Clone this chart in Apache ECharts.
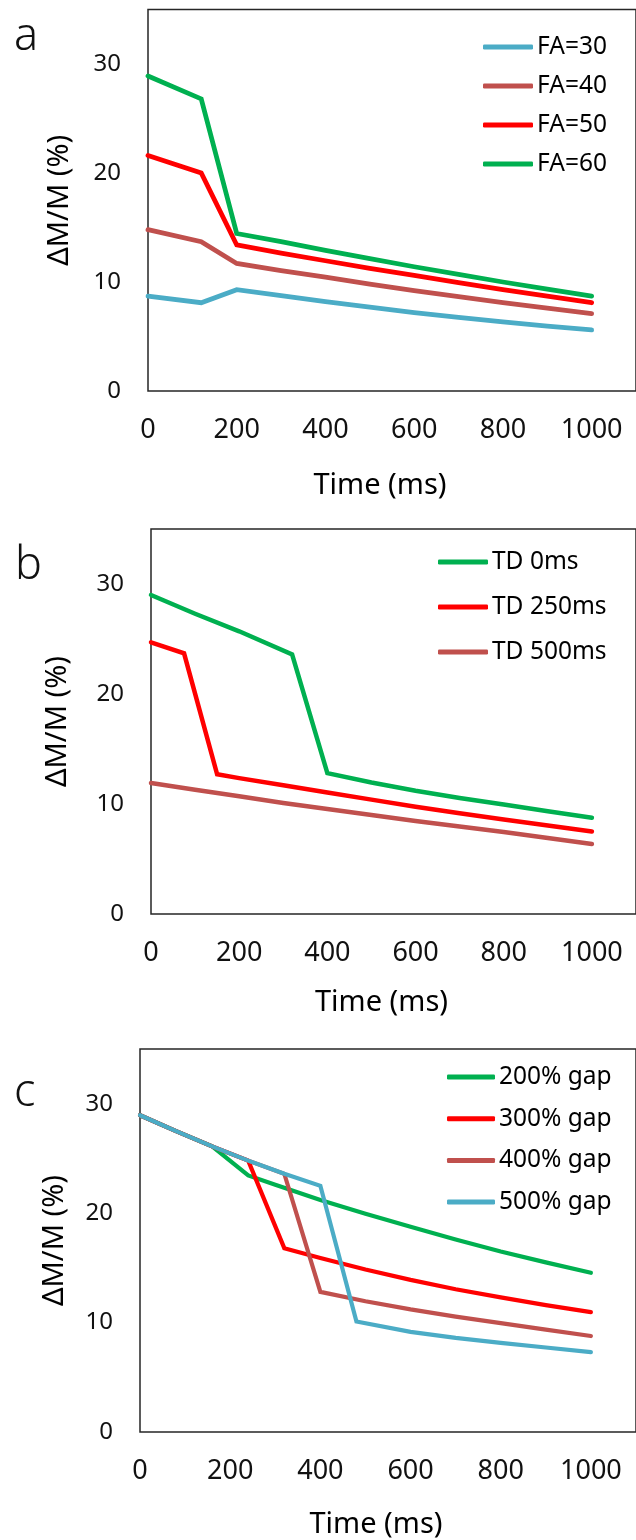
<!DOCTYPE html>
<html>
<head>
<meta charset="utf-8">
<script src="https://cdn.jsdelivr.net/npm/echarts@6/dist/echarts.min.js"></script>
<style>
  html, body { margin: 0; padding: 0; background: #fff; }
  #chart { width: 636px; height: 1540px; }
</style>
</head>
<body>
<div id="chart"></div>
<script>
// ---- Panel a: signal change for several flip angles ----
const timeA = [0, 120, 200, 300, 400, 500, 600, 700, 800, 900, 1000];
const fa30 = [8.7, 8.1, 9.3, 8.75, 8.2, 7.7, 7.2, 6.75, 6.35, 5.95, 5.6];
const fa40 = [14.8, 13.7, 11.7, 11.05, 10.45, 9.8, 9.2, 8.65, 8.1, 7.6, 7.1];
const fa50 = [21.6, 20.0, 13.4, 12.65, 11.95, 11.25, 10.6, 9.95, 9.3, 8.7, 8.1];
const fa60 = [28.9, 26.8, 14.45, 13.7, 12.9, 12.15, 11.4, 10.7, 10.0, 9.35, 8.7];

// ---- Panel b: different time delays ----
const td0Time = [0, 100, 200, 320, 400, 500, 600, 700, 800, 900, 1000];
const td0 = [29.0, 27.3, 25.7, 23.6, 12.8, 11.95, 11.2, 10.55, 9.95, 9.35, 8.75];
const td250Time = [0, 75, 150, 200, 300, 400, 500, 600, 700, 800, 900, 1000];
const td250 = [24.7, 23.7, 12.7, 12.35, 11.7, 11.05, 10.4, 9.75, 9.15, 8.6, 8.05, 7.5];
const td500Time = [0, 100, 200, 300, 400, 500, 600, 700, 800, 900, 1000];
const td500 = [11.9, 11.3, 10.7, 10.1, 9.55, 9.0, 8.45, 7.95, 7.45, 6.9, 6.36];

// ---- Panel c: different gap lengths ----
const gap200Time = [0, 80, 160, 240, 300, 400, 500, 600, 700, 800, 900, 1000];
const gap200 = [28.95, 27.5, 26.1, 23.45, 22.6, 21.2, 19.95, 18.75, 17.6, 16.5, 15.5, 14.55];
const gap300Time = [0, 80, 160, 240, 320, 400, 500, 600, 700, 800, 900, 1000];
const gap300 = [28.95, 27.5, 26.1, 24.8, 16.8, 15.9, 14.85, 13.9, 13.05, 12.3, 11.6, 10.95];
const gap400Time = [0, 80, 160, 240, 320, 400, 500, 600, 700, 800, 900, 1000];
const gap400 = [28.95, 27.5, 26.1, 24.8, 23.6, 12.8, 11.95, 11.2, 10.55, 9.95, 9.35, 8.77];
const gap500Time = [0, 80, 160, 240, 320, 400, 480, 600, 700, 800, 900, 1000];
const gap500 = [28.95, 27.5, 26.1, 24.8, 23.6, 22.5, 10.1, 9.15, 8.6, 8.15, 7.72, 7.3];

const panelLetters = ['a', 'b', 'c'];
const xTitle = 'Time (ms)';
const yTitle = 'ΔM/M (%)';

const BLUE = '#4BACC6', BROWN = '#C0504D', RED = '#FF0000', GREEN = '#00B050';
const FONT = '"Noto Sans", "Open Sans", sans-serif';

function pairs(xs, ys) { return xs.map((x, i) => [x, ys[i]]); }

// one entry per panel: grid box, series and legend placement
const panels = [
  {
    grid: { left: 148, top: 9.5, width: 495.5, height: 381.5 },
    xNameGap: 80, yNameGap: 74, lineWidth: 4.8,
    legend: { left: 483, top: 33, itemGap: 11, itemWidth: 50 },
    series: [
      { name: 'FA=30', color: BLUE, data: pairs(timeA, fa30) },
      { name: 'FA=40', color: BROWN, data: pairs(timeA, fa40) },
      { name: 'FA=50', color: RED, data: pairs(timeA, fa50) },
      { name: 'FA=60', color: GREEN, data: pairs(timeA, fa60) }
    ]
  },
  {
    grid: { left: 151, top: 529, width: 490.6, height: 385 },
    xNameGap: 74, yNameGap: 79, lineWidth: 4.5,
    legend: { left: 438, top: 548, itemGap: 17, itemWidth: 50 },
    series: [
      { name: 'TD 0ms', color: GREEN, data: pairs(td0Time, td0) },
      { name: 'TD 250ms', color: RED, data: pairs(td250Time, td250) },
      { name: 'TD 500ms', color: BROWN, data: pairs(td500Time, td500) }
    ]
  },
  {
    grid: { left: 140, top: 1049, width: 498.3, height: 383 },
    xNameGap: 78, yNameGap: 71, lineWidth: 4.2,
    legend: { left: 447, top: 1063, itemGap: 13.7, itemWidth: 48 },
    series: [
      { name: '200% gap', color: GREEN, data: pairs(gap200Time, gap200) },
      { name: '300% gap', color: RED, data: pairs(gap300Time, gap300) },
      { name: '400% gap', color: BROWN, data: pairs(gap400Time, gap400) },
      { name: '500% gap', color: BLUE, data: pairs(gap500Time, gap500) }
    ]
  }
];

const letterPos = [
  { x: 14, y: 37 },
  { x: 15, y: 566 },
  { x: 14, y: 1093 }
];

const chart = echarts.init(document.getElementById('chart'), null, { renderer: 'canvas' });

const option = {
  animation: false,
  backgroundColor: '#ffffff',
  textStyle: { fontFamily: FONT },
  grid: panels.map(p => Object.assign({
    show: true, borderColor: '#262626', borderWidth: 1.5, backgroundColor: 'transparent'
  }, p.grid)),
  xAxis: panels.map((p, i) => ({
    type: 'value', gridIndex: i, min: 0, max: 1100, interval: 200,
    axisLine: { show: false }, axisTick: { show: false }, splitLine: { show: false },
    axisLabel: {
      fontSize: 27, margin: 26, color: '#111', fontFamily: FONT, showMaxLabel: false,
      formatter: v => String(v)
    },
    name: xTitle, nameLocation: 'middle', nameGap: p.xNameGap,
    nameTextStyle: { fontSize: 29, color: '#000', fontFamily: FONT, padding: [0, 24, 0, 0] }
  })),
  yAxis: panels.map((p, i) => ({
    type: 'value', gridIndex: i, min: 0, max: 35, interval: 10,
    axisLine: { show: false }, axisTick: { show: false }, splitLine: { show: false },
    axisLabel: {
      fontSize: 24, margin: 27, color: '#111', fontFamily: FONT, showMaxLabel: false,
      formatter: v => String(v)
    },
    name: yTitle, nameLocation: 'middle', nameGap: p.yNameGap,
    nameTextStyle: { fontSize: 29, color: '#000', fontFamily: FONT }
  })),
  legend: panels.map(p => ({
    orient: 'vertical', left: p.legend.left, top: p.legend.top,
    itemGap: p.legend.itemGap, itemWidth: p.legend.itemWidth, itemHeight: 5,
    icon: 'roundRect', padding: 0,
    data: p.series.map(s => s.name),
    textStyle: { fontSize: 24.5, color: '#000', fontFamily: FONT, lineHeight: 28, padding: [0, 0, 0, -1] }
  })),
  series: panels.flatMap((p, i) => p.series.map(s => ({
    type: 'line', name: s.name, xAxisIndex: i, yAxisIndex: i,
    data: s.data, showSymbol: false, symbol: 'none', smooth: false,
    color: s.color,
    lineStyle: { color: s.color, width: p.lineWidth, cap: 'round', join: 'miter' },
    itemStyle: { color: s.color }
  }))),
  graphic: panelLetters.map((t, i) => ({
    type: 'text', left: letterPos[i].x, top: letterPos[i].y - 22,
    style: { text: t, fontSize: 45, fontFamily: FONT, fontWeight: 300, fill: '#111' }
  }))
};

chart.setOption(option);
</script>
</body>
</html>
